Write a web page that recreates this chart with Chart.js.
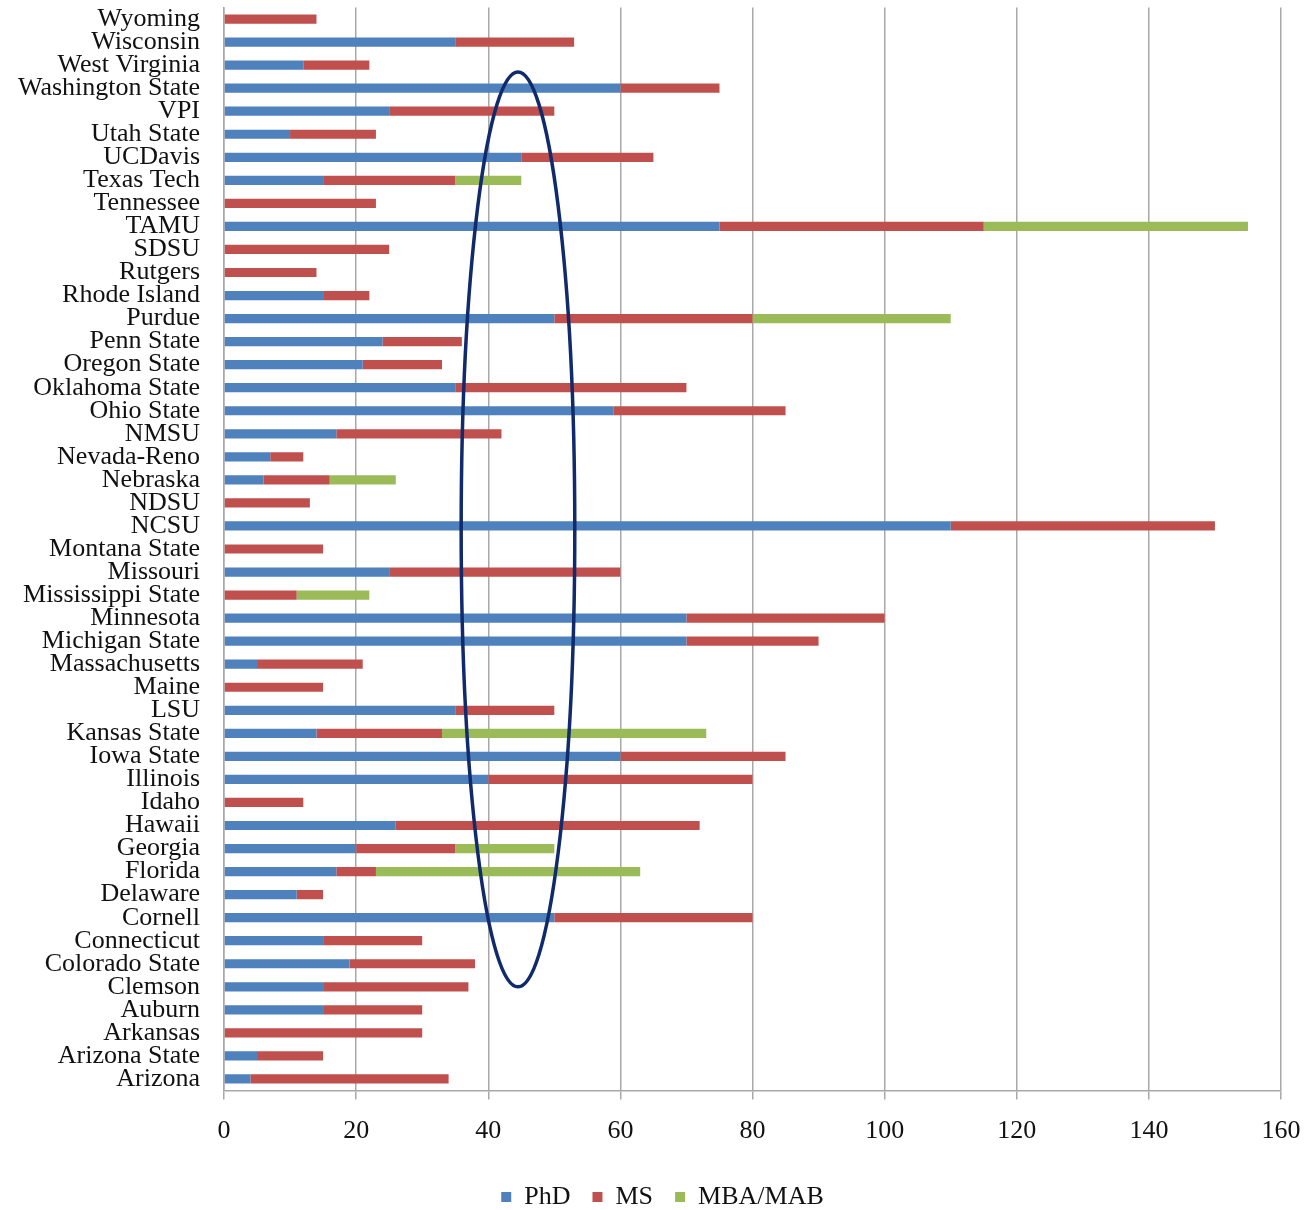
<!DOCTYPE html>
<html>
<head>
<meta charset="utf-8">
<script src="https://cdn.jsdelivr.net/npm/chart.js@4/dist/chart.umd.min.js"></script>
<style>
  body { margin: 0; padding: 0; background: #fff; }
  #wrap { width: 1307px; height: 1210px; position: relative; }
</style>
</head>
<body>
<div id="wrap"><canvas id="chart" width="1307" height="1210"></canvas></div>
<script>
// universities, top to bottom as in the picture
const schools = [
  "Wyoming", "Wisconsin", "West Virginia", "Washington State", "VPI",
  "Utah State", "UCDavis", "Texas Tech", "Tennessee", "TAMU", "SDSU",
  "Rutgers", "Rhode Island", "Purdue", "Penn State", "Oregon State",
  "Oklahoma State", "Ohio State", "NMSU", "Nevada-Reno", "Nebraska", "NDSU",
  "NCSU", "Montana State", "Missouri", "Mississippi State", "Minnesota",
  "Michigan State", "Massachusetts", "Maine", "LSU", "Kansas State",
  "Iowa State", "Illinois", "Idaho", "Hawaii", "Georgia", "Florida",
  "Delaware", "Cornell", "Connecticut", "Colorado State", "Clemson",
  "Auburn", "Arkansas", "Arizona State", "Arizona"
];

const phd = [
  0, 35, 12, 60, 25, 10, 45, 15, 0, 75, 0,
  0, 15, 50, 24, 21,
  35, 59, 17, 7, 6, 0,
  110, 0, 25, 0, 70,
  70, 5, 0, 35, 14,
  60, 40, 0, 26, 20, 17,
  11, 50, 15, 19, 15,
  15, 0, 5, 4
];

const ms = [
  14, 18, 10, 15, 25, 13, 20, 20, 23, 40, 25,
  14, 7, 30, 12, 12,
  35, 26, 25, 5, 10, 13,
  40, 15, 35, 11, 30,
  20, 16, 15, 15, 19,
  25, 40, 12, 46, 15, 6,
  4, 30, 15, 19, 22,
  15, 30, 10, 30
];

const mba = [
  0, 0, 0, 0, 0, 0, 0, 10, 0, 40, 0,
  0, 0, 30, 0, 0,
  0, 0, 0, 0, 10, 0,
  0, 0, 0, 11, 0,
  0, 0, 0, 0, 40,
  0, 0, 0, 0, 15, 40,
  0, 0, 0, 0, 0,
  0, 0, 0, 0
];

const xTicks = [0, 20, 40, 60, 80, 100, 120, 140, 160];

// hand-drawn ellipse in data units: x from..to, y from category index..to
const ringX = [35.9, 53.1];
const ringY = [2.3, 42.0];

const serif = "'Liberation Serif', 'Times New Roman', serif";

const ellipsePlugin = {
  id: "ring",
  afterLayout(chart) {
    // legend sits a bit right of the canvas centre in the original
    if (chart.legend) {
      chart.legend.left += 22;
      chart.legend.right += 22;
    }
  },
  afterDatasetsDraw(chart) {
    const { ctx, scales } = chart;
    const x1 = scales.x.getPixelForValue(ringX[0]);
    const x2 = scales.x.getPixelForValue(ringX[1]);
    const y1 = scales.y.getPixelForValue(ringY[0]);
    const y2 = scales.y.getPixelForValue(ringY[1]);
    ctx.save();
    ctx.beginPath();
    ctx.ellipse((x1 + x2) / 2, (y1 + y2) / 2, (x2 - x1) / 2, (y2 - y1) / 2, 0, 0, Math.PI * 2);
    ctx.strokeStyle = "#102a6c";
    ctx.lineWidth = 3.5;
    ctx.stroke();
    ctx.restore();
  }
};

new Chart(document.getElementById("chart"), {
  type: "bar",
  data: {
    labels: schools,
    datasets: [
      { label: "PhD", data: phd, backgroundColor: "#4f81bd" },
      { label: "MS", data: ms, backgroundColor: "#c0504d" },
      { label: "MBA/MAB", data: mba, backgroundColor: "#9bbb59" }
    ]
  },
  options: {
    indexAxis: "y",
    responsive: false,
    animation: false,
    categoryPercentage: 0.4,
    barPercentage: 1,
    layout: { padding: { left: 0, right: 26, top: 7.5, bottom: -10 } },
    plugins: {
      tooltip: { enabled: false },
      legend: {
        position: "bottom",
        labels: {
          boxWidth: 10,
          boxHeight: 10,
          padding: 22,
          color: "#111",
          font: { family: serif, size: 26 }
        }
      }
    },
    scales: {
      x: {
        stacked: true,
        min: 0,
        max: 160,
        afterBuildTicks: (s) => { s.ticks = xTicks.map(v => ({ value: v })); },
        afterFit: (s) => { s.height = 71.5; s.paddingLeft = 0; s.paddingRight = 0; },
        grid: { color: "#a8a8a8", lineWidth: 1.5, tickLength: 9, drawTicks: true },
        border: { display: true, color: "#a8a8a8", width: 1.5 },
        ticks: { color: "#111", padding: 16, font: { family: serif, size: 26 } }
      },
      y: {
        stacked: true,
        afterFit: (s) => { s.width = 224; },
        grid: { display: true, drawOnChartArea: false, drawTicks: true, tickLength: 24, color: "rgba(0,0,0,0)" },
        border: { display: true, color: "#a8a8a8", width: 1.5 },
        ticks: { color: "#111", padding: 0, autoSkip: false, font: { family: serif, size: 26, lineHeight: 0.55 } }
      }
    }
  },
  plugins: [ellipsePlugin]
});
</script>
</body>
</html>
